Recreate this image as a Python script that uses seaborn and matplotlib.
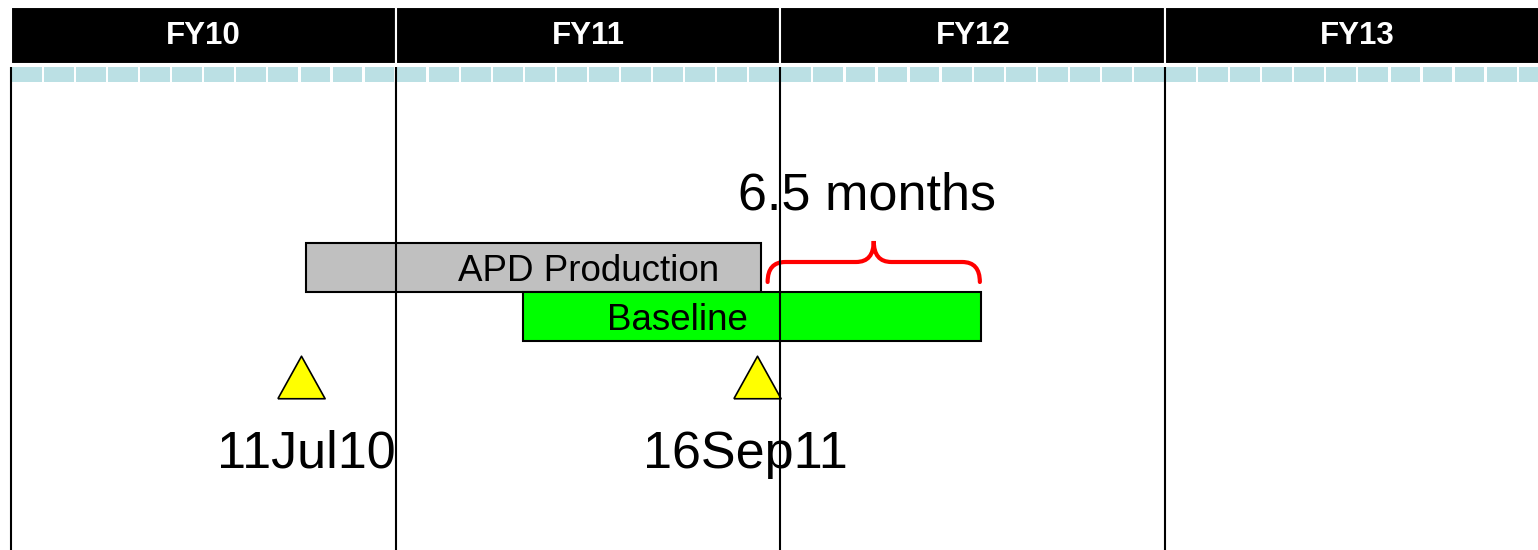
import numpy as np
import seaborn as sns
import matplotlib.pyplot as plt
from matplotlib.path import Path
from matplotlib.patches import PathPatch

# time axis is in months counted from 1 Oct 2009 (start of FY10)
fiscal_years = ["FY10", "FY11", "FY12", "FY13"]
fy_starts = [0, 12, 24, 36]
n_months = 48

tasks = ["APD Production", "Baseline"]
task_starts = [9.2, 15.97]
task_ends = [23.4, 30.26]
task_colors = ["#c0c0c0", "#00ff00"]
task_label_x = [18.0, 20.8]

milestones = ["11Jul10", "16Sep11"]
milestone_x = [9.05, 23.27]
milestone_label_x = [9.2, 22.9]

gap_label = "6.5 months"
gap_start = 23.6
gap_end = 30.22

sns.set_theme(style="white")
plt.rcParams["font.family"] = ["Liberation Sans", "DejaVu Sans"]
plt.rcParams["text.color"] = "black"

fig = plt.figure(figsize=(15.38, 5.5), dpi=100)
ax = fig.add_axes([0, 0, 1, 1])
px = 32.06  # pixels per month
ax.set_xlim(-11 / px, (1538 - 11) / px)
ax.set_ylim(550, 0)
ax.axis("off")

# header with fiscal years
ax.barh([35.5] * 4, [12] * 4, left=fy_starts, height=57, color="black",
        edgecolor="white", linewidth=1.5, zorder=2)
for fy, s in zip(fiscal_years, fy_starts):
    ax.text(s + 6, 36, fy, color="white", fontsize=22.5, fontweight="bold",
            ha="center", va="center", zorder=3)

# month strip
months = np.arange(n_months)
ax.barh([74] * n_months, [0.93] * n_months, left=months + 0.03, height=15,
        color="#bbe0e4", linewidth=0, zorder=2)

# year separators
ax.vlines(fy_starts, 67, 550, color="black", linewidth=1.5, zorder=5)

# task bars
row_y = [267.5, 316.5]
ax.barh(row_y, np.array(task_ends) - np.array(task_starts), left=task_starts,
        height=49, color=task_colors, edgecolor="black", linewidth=1.5, zorder=3)
for name, lx, y in zip(tasks, task_label_x, row_y):
    ax.text(lx, y + 13.5, name, fontsize=26.5, ha="center", va="baseline", zorder=4)

# milestones
tri = [(-1, -0.9), (1, -0.9), (0, 0.9), (-1, -0.9)]
sns.scatterplot(x=milestone_x, y=[376.5] * 2, ax=ax, marker=tri, s=34 ** 2,
                color="yellow", edgecolor="black", linewidth=1.2, zorder=4,
                legend=False)
for name, lx in zip(milestones, milestone_label_x):
    ax.text(lx, 468, name, fontsize=37.5, ha="center", va="baseline", zorder=4)

# curly brace for the slip
r = 0.55
xc = (gap_start + gap_end) / 2
yb, ym, yt = 282, 262, 241
verts = [(gap_start, yb), (gap_start, ym), (gap_start + r, ym),
         (xc - r, ym), (xc, ym), (xc, yt),
         (xc, ym), (xc + r, ym),
         (gap_end - r, ym), (gap_end, ym), (gap_end, yb)]
codes = [Path.MOVETO, Path.CURVE3, Path.CURVE3,
         Path.LINETO, Path.CURVE3, Path.CURVE3,
         Path.CURVE3, Path.CURVE3,
         Path.LINETO, Path.CURVE3, Path.CURVE3]
ax.add_patch(PathPatch(Path(verts, codes), facecolor="none", edgecolor="red",
                       linewidth=3, capstyle="round", zorder=4))
ax.text(xc - 0.2, 209, gap_label, fontsize=37.5, ha="center", va="baseline", zorder=4)

fig.savefig("out.png", dpi=100)
